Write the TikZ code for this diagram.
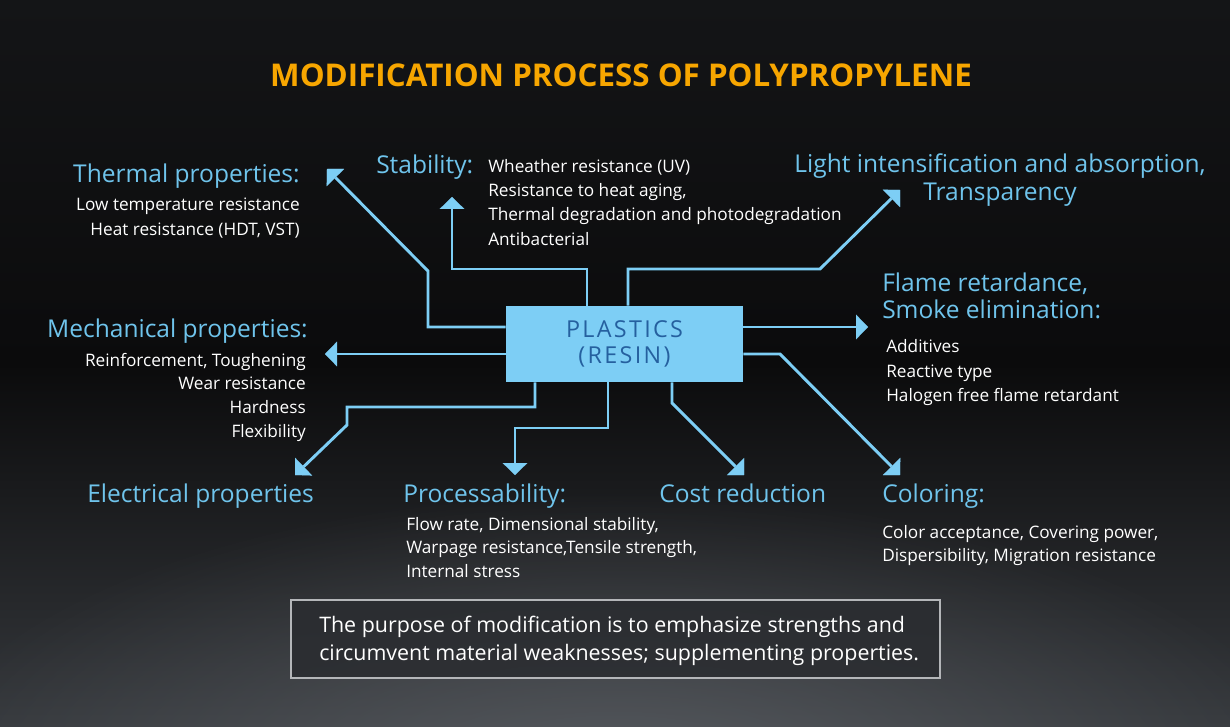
\documentclass[tikz,border=0pt]{standalone}
\usepackage{fontspec}
\setmainfont{Open Sans}
\usetikzlibrary{arrows.meta,fadings}
\definecolor{bgtop}{HTML}{141517}
\definecolor{bgmid}{HTML}{0B0B0C}
\definecolor{bgbot}{HTML}{35383C}
\definecolor{glow}{HTML}{6A6E74}
\definecolor{lineblue}{HTML}{7DCEF5}
\definecolor{headblue}{HTML}{6FC4EC}
\definecolor{boxtext}{HTML}{25609F}
\definecolor{titleorange}{HTML}{F7A600}
\definecolor{noteframe}{HTML}{B4B6B9}
\definecolor{notefill}{HTML}{2A2C30}
\tikzfading[name=glowfade, inner color=transparent!35, outer color=transparent!100]
\begin{document}
\begin{tikzpicture}[x=0.75pt,y=-0.75pt,
  head/.style={font=\fontsize{18.4}{22}\selectfont, text=headblue, inner sep=0pt},
  body/.style={font=\fontsize{12.9}{15}\selectfont, text=white, inner sep=0pt},
  conn/.style={draw=lineblue, line width=2.2pt, line join=miter,
    -{Triangle[length=9pt,width=18.5pt,line width=0.01pt]}},
  centerbox/.style={fill=lineblue, draw=none, minimum width=177.75pt, minimum height=57pt,
    inner sep=0pt, align=center, text=boxtext, font=\fontsize{17.5}{22}\selectfont},
  notebox/.style={draw=noteframe, line width=1.1pt, fill=notefill, fill opacity=0.85,
    text opacity=1, minimum width=486.75pt, minimum height=58.5pt, inner sep=0pt}
]
\useasboundingbox (0,0) rectangle (1230,727);
% background
\shade[top color=bgtop, bottom color=bgbot, middle color=bgmid] (0,0) rectangle (1230,727);
\fill[glow, path fading=glowfade] (615,800) ellipse (720 and 310);

% title
\node[inner sep=0pt, anchor=base, text=titleorange, font=\fontsize{23.5}{28}\selectfont\bfseries]
  (title) at (621,87) {MODIFICATION PROCESS OF POLYPROPYLENE};

% central box
\node[centerbox] (plastics) at (624.5,344)
  {\addfontfeature{LetterSpace=10}PLASTICS\\[-2pt]\addfontfeature{LetterSpace=10}(RESIN)};

% thermal
\node[head, anchor=base east] (thermH) at (300,183) {Thermal properties:};
\node[body, anchor=base east] (therm1) at (300,211) {Low temperature resistance};
\node[body, anchor=base east] (therm2) at (300,235) {Heat resistance (HDT, VST)};

% mechanical
\node[head, anchor=base east] (mechH) at (308,337) {Mechanical properties:};
\node[body, anchor=base east] (mech1) at (306,366) {Reinforcement, Toughening};
\node[body, anchor=base east] (mech2) at (306,389) {Wear resistance};
\node[body, anchor=base east] (mech3) at (306,413) {Hardness};
\node[body, anchor=base east] (mech4) at (306,437) {Flexibility};

% stability
\node[head, anchor=base west] (stabH) at (376,174) {Stability:};
\node[body, anchor=base west] (stab1) at (488,173) {Wheather resistance (UV)};
\node[body, anchor=base west] (stab2) at (488,197) {Resistance to heat aging,};
\node[body, anchor=base west] (stab3) at (488,221) {Thermal degradation and photodegradation};
\node[body, anchor=base west] (stab4) at (488,245) {Antibacterial};

% light
\node[head, anchor=base] (light1) at (1000,173) {Light intensification and absorption,};
\node[head, anchor=base] (light2) at (1000,201) {Transparency};

% flame
\node[head, anchor=base west] (flame1) at (882,291) {Flame retardance,};
\node[head, anchor=base west] (flame2) at (882,318) {Smoke elimination:};
\node[body, anchor=base west] (flameA) at (886,352) {Additives};
\node[body, anchor=base west] (flameB) at (886,377) {Reactive type};
\node[body, anchor=base west] (flameC) at (886,401) {Halogen free flame retardant};

% bottom row
\node[head, anchor=base west] (elecH) at (87,502) {Electrical properties};
\node[head, anchor=base west] (procH) at (403,502) {Processability:};
\node[body, anchor=base west] (proc1) at (406,530) {Flow rate, Dimensional stability,};
\node[body, anchor=base west] (proc2) at (406,553) {Warpage resistance,Tensile strength,};
\node[body, anchor=base west] (proc3) at (406,577) {Internal stress};
\node[head, anchor=base west] (costH) at (659,502) {Cost reduction};
\node[head, anchor=base west] (colH) at (882,502) {Coloring:};
\node[body, anchor=base west] (col1) at (882,538) {Color acceptance, Covering power,};
\node[body, anchor=base west] (col2) at (882,561) {Dispersibility, Migration resistance};

% connector end points
\coordinate (thermT) at (327,169);
\coordinate (stabT) at (452,197);
\coordinate (lightT) at (900,190);
\coordinate (flameT) at (868,327);
\coordinate (mechT) at (325,354);
\coordinate (elecT) at (295,475);
\coordinate (procT) at (515,475);
\coordinate (costT) at (744,475);
\coordinate (colT) at (900,475);

% connectors
\draw[conn] (plastics.west |- 0,327) -- (428,327) -- (428,271) -- (thermT);
\draw[conn] (plastics.north -| 587,0) -- (587,269) -- (452,269) -- (stabT);
\draw[conn] (plastics.north -| 628,0) -- (628,269) -- (820,269) -- (lightT);
\draw[conn] (plastics.east |- 0,327) -- (flameT);
\draw[conn] (plastics.west |- 0,354) -- (mechT);
\draw[conn] (plastics.east |- 0,354) -- (780,354) -- (colT);
\draw[conn] (plastics.south -| 672,0) -- (672,403) -- (costT);
\draw[conn] (plastics.south -| 608,0) -- (608,428) -- (515,428) -- (procT);
\draw[conn] (plastics.south -| 535,0) -- (535,407) -- (347,407) -- (347,425) -- (elecT);

% note
\node[notebox] (note) at (615.5,639) {};
\node[inner sep=0pt, anchor=base west, text=white, font=\fontsize{16.05}{21}\selectfont]
  (note1) at (319,632) {The purpose of modification is to emphasize strengths and};
\node[inner sep=0pt, anchor=base west, text=white, font=\fontsize{16.05}{21}\selectfont]
  (note2) at (319,660) {circumvent material weaknesses; supplementing properties.};
\end{tikzpicture}
\end{document}
